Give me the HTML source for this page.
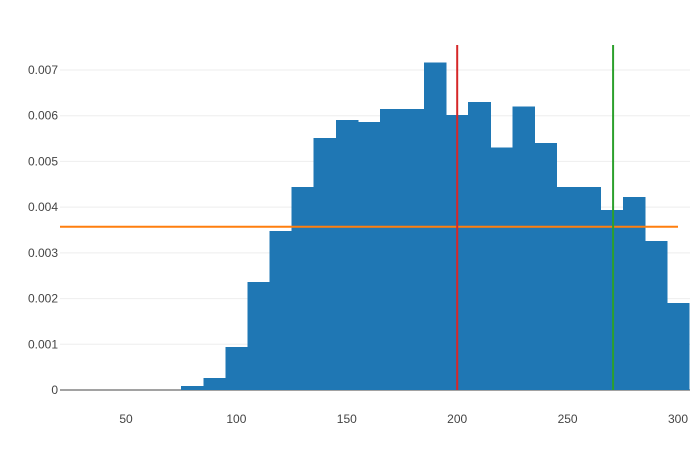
<!DOCTYPE html>
<html><head><meta charset="utf-8"><style>
body{margin:0;background:#fff;}
svg{display:block;font-family:"Liberation Sans",sans-serif;}
</style></head><body>
<svg id="chart" width="700" height="450" xmlns="http://www.w3.org/2000/svg">
<g id="grid"></g>
<g id="bars" shape-rendering="crispEdges"></g>
<g id="lines"></g>
<g id="xt"></g>
<g id="yt"></g>
</svg>
<script>
const binStarts=[75,85,95,105,115,125,135,145,155,165,175,185,195,205,215,225,235,245,255,265,275,285,295];
const density=[0.00009,0.00026,0.00094,0.00236,0.00348,0.00444,0.00551,0.00591,0.00586,0.00615,0.00615,0.00716,0.00602,0.0063,0.0053,0.0062,0.0054,0.00444,0.00444,0.00394,0.00422,0.00326,0.0019];
const binWidth=10;
const xTicks=[50,100,150,200,250,300];
const yTicks=[0,0.001,0.002,0.003,0.004,0.005,0.006,0.007];
const vLineRed=200, vLineGreen=270.6, hLineOrange=0.00357, hLineEnd=300;

const L=60,R=690,T=45,B=390;
const xs=v=>15.6+v*2.208;
const ys=v=>390-v*45714;
const NS="http://www.w3.org/2000/svg";
function mk(tag,attrs,parent,text){const e=document.createElementNS(NS,tag);for(const k in attrs)e.setAttribute(k,attrs[k]);if(text!==undefined)e.textContent=text;document.getElementById(parent).appendChild(e);return e;}

yTicks.forEach(t=>{
  if(t>0){const g=mk('line',{x1:L,x2:R,y1:ys(t),y2:ys(t),stroke:'#eee','stroke-width':1},'grid');
  
  }
  const lb=mk('text',{x:L-2,y:ys(t)+4,'text-anchor':'end','font-size':12,fill:'#444'},'yt',t===0?'0':t.toFixed(3));
  
  
});
const z=mk('line',{x1:L,x2:R,y1:ys(0),y2:ys(0),stroke:'#444','stroke-width':1},'grid');



binStarts.forEach((s,i)=>{
  const x0=xs(s),x1=Math.min(xs(s+binWidth),R);
  const b=mk('rect',{x:x0,y:ys(density[i]),width:x1-x0+0.5,height:ys(0)-ys(density[i]),fill:'#1f77b4'},'bars');
  
  
});

xTicks.forEach(t=>{
  const lb=mk('text',{x:xs(t),y:423,'text-anchor':'middle','font-size':12,fill:'#444'},'xt',String(t));
  
  
});

const o=mk('line',{x1:L,x2:xs(hLineEnd),y1:ys(hLineOrange),y2:ys(hLineOrange),stroke:'#ff7f0e','stroke-width':2},'lines');


const r=mk('line',{x1:xs(vLineRed),x2:xs(vLineRed),y1:T,y2:B,stroke:'#d62728','stroke-width':2},'lines');


const g=mk('line',{x1:xs(vLineGreen),x2:xs(vLineGreen),y1:T,y2:B,stroke:'#2ca02c','stroke-width':2},'lines');


</script>
</body></html>
